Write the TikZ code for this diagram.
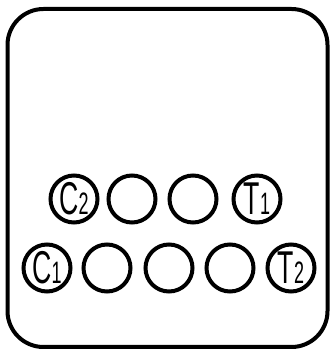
\documentclass[tikz,border=0pt]{standalone}
\usepackage{fontspec}
\setmainfont{Liberation Sans}
\usepackage{graphicx}
\newcommand{\lbl}[2]{\raisebox{-1pt}{\scalebox{0.58}[1]{\fontsize{46}{46}\selectfont #1\fontsize{31}{31}\selectfont #2}}}
\begin{document}
\begin{tikzpicture}[x=1pt,y=1pt,
  hole/.style={circle,draw,line width=4pt,minimum size=47pt,inner sep=0pt},
  frame/.style={draw,line width=4pt,rounded corners=36pt}]
\useasboundingbox (0,0) rectangle (333,350);
\node[frame,minimum width=320pt,minimum height=338pt,inner sep=0pt] (box) at (167.5,172) {};
% top row
\node[hole] (c2) at (74,151) {\lbl{C}{2}};
\node[hole] (a2) at (132,151) {};
\node[hole] (b2) at (193,151) {};
\node[hole] (t1) at (257,151) {\lbl{T}{1}};
% bottom row
\node[hole] (c1) at (47,82) {\lbl{C}{1}};
\node[hole] (a1) at (107,82) {};
\node[hole] (b1) at (169,82) {};
\node[hole] (d1) at (230,82) {};
\node[hole] (t2) at (291,82) {\lbl{T}{2}};
\end{tikzpicture}
\end{document}
